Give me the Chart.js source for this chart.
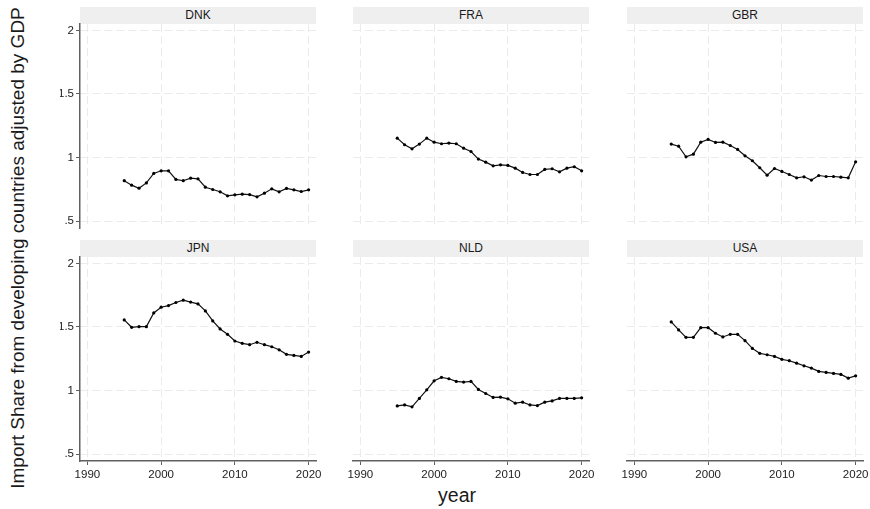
<!DOCTYPE html>
<html>
<head>
<meta charset="utf-8">
<script src="https://cdn.jsdelivr.net/npm/chart.js@4.4.0/dist/chart.umd.min.js"></script>
<style>
  body { margin: 0; background: #fff; width: 870px; height: 509px; position: relative; overflow: hidden; font-family: 'Liberation Sans', Arial, sans-serif; }
  canvas { position: absolute; }
  .strip { position: absolute; background: #efefef; color: #1a1a1a; font-size: 12px; text-align: center; height: 17px; line-height: 17px; }
  .ytitle { position: absolute; left: 18px; top: 248px; transform: translate(-50%, -50%) rotate(-90deg); white-space: nowrap; font-size: 19px; color: #1a1a1a; }
  .xtitle { position: absolute; left: 457px; top: 495px; transform: translate(-50%, -50%); font-size: 19.5px; color: #1a1a1a; }
</style>
</head>
<body>
<div class="ytitle">Import Share from developing countries adjusted by GDP</div>
<div class="xtitle">year</div>
<script>
// data
const countries = ['DNK', 'FRA', 'GBR', 'JPN', 'NLD', 'USA'];
const years = [1995, 1996, 1997, 1998, 1999, 2000, 2001, 2002, 2003, 2004, 2005, 2006, 2007,
  2008, 2009, 2010, 2011, 2012, 2013, 2014, 2015, 2016, 2017, 2018, 2019, 2020];

const dnkValues = [0.817, 0.782, 0.758, 0.800, 0.874, 0.895, 0.895, 0.827, 0.817, 0.837, 0.832, 0.766, 0.748,
  0.730, 0.698, 0.706, 0.711, 0.708, 0.690, 0.719, 0.753, 0.730, 0.756, 0.745, 0.732, 0.745];
const fraValues = [1.152, 1.100, 1.068, 1.105, 1.152, 1.120, 1.108, 1.113, 1.108, 1.073, 1.047, 0.987, 0.963,
  0.934, 0.942, 0.937, 0.916, 0.882, 0.866, 0.866, 0.906, 0.911, 0.887, 0.916, 0.927, 0.895];
const gbrValues = [1.105, 1.089, 1.005, 1.026, 1.120, 1.142, 1.118, 1.120, 1.094, 1.063, 1.013, 0.974, 0.919,
  0.861, 0.913, 0.890, 0.866, 0.840, 0.848, 0.822, 0.858, 0.850, 0.850, 0.845, 0.840, 0.966];
const jpnValues = [1.555, 1.497, 1.502, 1.502, 1.610, 1.655, 1.668, 1.692, 1.710, 1.695, 1.681, 1.626, 1.547,
  1.484, 1.442, 1.389, 1.371, 1.360, 1.379, 1.360, 1.344, 1.320, 1.284, 1.276, 1.268, 1.302];
const nldValues = [0.878, 0.886, 0.871, 0.937, 1.005, 1.076, 1.103, 1.092, 1.071, 1.066, 1.071, 1.008, 0.976,
  0.945, 0.947, 0.934, 0.900, 0.908, 0.886, 0.881, 0.908, 0.918, 0.937, 0.937, 0.937, 0.942];
const usaValues = [1.539, 1.476, 1.418, 1.418, 1.494, 1.494, 1.450, 1.421, 1.442, 1.442, 1.392, 1.331, 1.292,
  1.281, 1.268, 1.245, 1.234, 1.215, 1.194, 1.176, 1.150, 1.142, 1.134, 1.126, 1.097, 1.115];

const xTicks = [1990, 2000, 2010, 2020];
const yTicks = [0.5, 1, 1.5, 2];
const yTickLabels = ['.5', '1', '1.5', '2'];

const seriesByCountry = [dnkValues, fraValues, gbrValues, jpnValues, nldValues, usaValues];

// layout
const colLeft = [80, 353, 627];
const plotWidth = 236;
const rows = [
  { strip: 7, top: 24, height: 204 },
  { strip: 240, top: 257, height: 204 },
];
const PAD = 14;
const Y_AXIS_W = 20;
const X_AXIS_H = 24;

const tickFont = { family: "'Liberation Sans', Arial, sans-serif", size: 11.5 };
const gridColor = '#ebebeb';
const axisColor = '#606060';

countries.forEach((country, i) => {
  const col = i % 3;
  const row = Math.floor(i / 3);
  const hasY = col === 0;
  const hasX = row === 1;
  const r = rows[row];

  const strip = document.createElement('div');
  strip.className = 'strip';
  strip.textContent = country;
  strip.style.left = `${colLeft[col]}px`;
  strip.style.top = `${r.strip}px`;
  strip.style.width = `${plotWidth}px`;
  document.body.appendChild(strip);

  const yW = hasY ? Y_AXIS_W : 0;
  const xH = hasX ? X_AXIS_H : 0;
  const canvas = document.createElement('canvas');
  canvas.width = plotWidth + 2 * PAD + yW;
  canvas.height = r.height + 2 * PAD + xH;
  canvas.style.left = `${colLeft[col] - PAD - yW}px`;
  canvas.style.top = `${r.top - PAD}px`;
  document.body.appendChild(canvas);

  const values = seriesByCountry[i];

  new Chart(canvas.getContext('2d'), {
    type: 'line',
    data: {
      datasets: [{
        label: country,
        data: years.map((yr, k) => ({ x: yr, y: values[k] })),
        borderColor: '#111',
        borderWidth: 1.2,
        pointRadius: 1.6,
        pointBackgroundColor: '#000',
        pointBorderWidth: 0,
        tension: 0,
      }],
    },
    options: {
      responsive: false,
      animation: false,
      layout: { padding: PAD },
      plugins: { legend: { display: false }, tooltip: { enabled: false } },
      scales: {
        x: {
          type: 'linear',
          min: 1989,
          max: 2021,
          afterBuildTicks: (scale) => { scale.ticks = xTicks.map((v) => ({ value: v })); },
          afterFit: (scale) => { scale.height = xH; },
          ticks: {
            display: hasX,
            font: tickFont,
            color: '#222',
            padding: 3,
            maxRotation: 0,
            callback: (v) => String(v),
          },
          grid: {
            color: gridColor,
            lineWidth: 1,
            drawTicks: hasX,
            tickLength: 4,
            tickColor: axisColor,
            tickWidth: 1,
            tickBorderDash: [],
          },
          border: { display: hasX, color: axisColor, width: 1.5, dash: [8, 4] },
        },
        y: {
          min: 0.445,
          max: 2.05,
          afterBuildTicks: (scale) => { scale.ticks = yTicks.map((v) => ({ value: v })); },
          afterFit: (scale) => { scale.width = yW; },
          ticks: {
            display: hasY,
            font: tickFont,
            color: '#222',
            padding: 2,
            callback: (v) => yTickLabels[yTicks.indexOf(v)],
          },
          grid: {
            color: gridColor,
            lineWidth: 1,
            drawTicks: hasY,
            tickLength: 4,
            tickColor: axisColor,
            tickWidth: 1,
            tickBorderDash: [],
          },
          border: { display: hasY, color: axisColor, width: 1.5, dash: [8, 4] },
        },
      },
    },
  });
});
</script>
</body>
</html>
